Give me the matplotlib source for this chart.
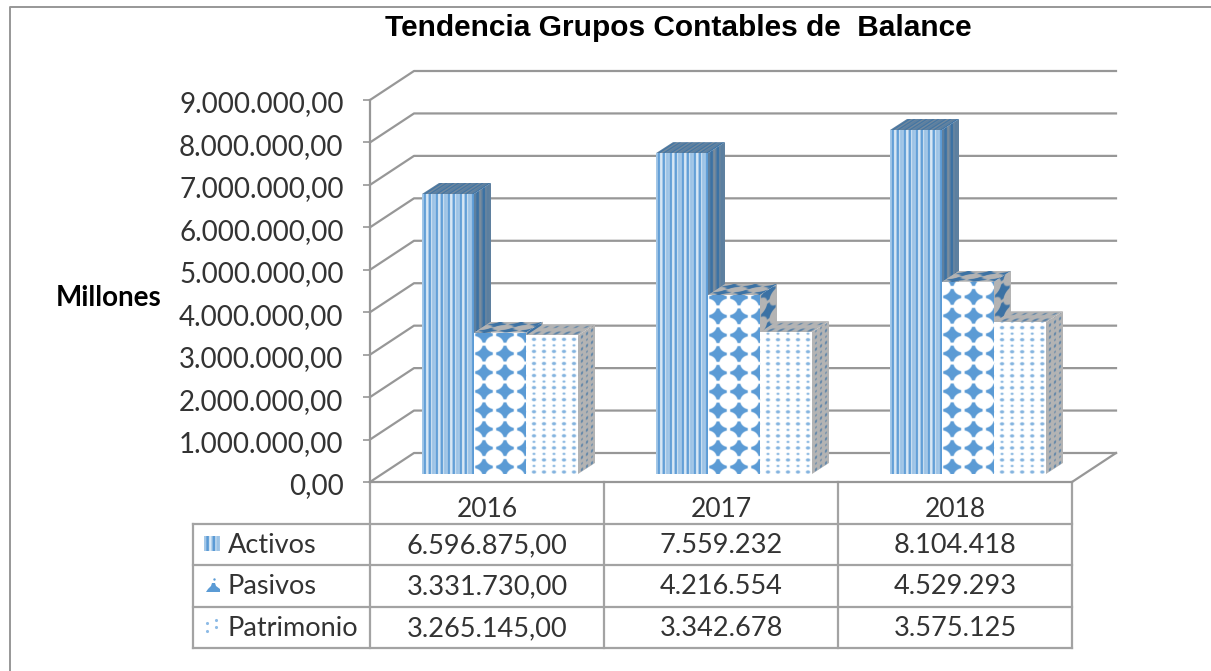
import matplotlib
matplotlib.use('Agg')
import matplotlib.pyplot as plt
import numpy as np
from matplotlib.lines import Line2D
from matplotlib.patches import Polygon
from matplotlib.transforms import Affine2D, ScaledTranslation

years = ['2016', '2017', '2018']
series = ['Activos', 'Pasivos', 'Patrimonio']
activos = [6596875, 7559232, 8104418]
pasivos = [3331730, 4216554, 4529293]
patrimonio = [3265145, 3342678, 3575125]
activos_txt = ['6.596.875,00', '7.559.232', '8.104.418']
pasivos_txt = ['3.331.730,00', '4.216.554', '4.529.293']
patrimonio_txt = ['3.265.145,00', '3.342.678', '3.575.125']
y_ticks = [0, 1000000, 2000000, 3000000, 4000000, 5000000, 6000000, 7000000, 8000000, 9000000]
y_labels = ['0,00', '1.000.000,00', '2.000.000,00', '3.000.000,00', '4.000.000,00',
            '5.000.000,00', '6.000.000,00', '7.000.000,00', '8.000.000,00', '9.000.000,00']

W, H = 1211, 671
GREY = '#979797'
TXT = '#333333'
BLUE = np.array([0x5B, 0x9B, 0xD5]) / 255
WHITE = np.array([1.0, 1.0, 1.0])
SIDE_FG = np.array([0x3C, 0x72, 0xA4]) / 255
SIDE_BG = np.array([0xB4, 0xB4, 0xB4]) / 255
plt.rcParams['font.family'] = ['Lato', 'DejaVu Sans']

fig = plt.figure(figsize=(W / 100, H / 100), dpi=100)
ax = fig.add_axes([370 / W, (H - 482) / H, 702 / W, 382 / H])
ax.patch.set_visible(False)
ax.set_xlim(0, 3)
ax.set_ylim(0, 9000000)

# reference pixels (y going down) -> display
px = Affine2D().scale(1, -1).translate(0, H)


def to_px(x, y):
    return px.inverted().transform(ax.transData.transform((x, y)))


def line(xs, ys, color=GREY, lw=1.6, z=1):
    ax.add_line(Line2D(xs, ys, color=color, lw=lw, transform=px, clip_on=False,
                       zorder=z, solid_capstyle='projecting'))


stripe_mask = np.array([.55, .55, 1, 1, .2, .2, .55, 1, 1, .2, .6, .6])


def mask_for(kind, w, h, sx=1.0, sy=1.0):
    # pattern in reference pixels, 3 samples per pixel
    xs = (np.arange(int(w * 3)) + .5) / 3 * sx
    ys = (np.arange(int(max(h, 1) * 3)) + .5) / 3 * sy
    x, y = np.meshgrid(xs, ys)
    if kind == 0:
        return stripe_mask[(x.astype(int)) % 12]
    if kind == 1:
        # blobs: what is left between white circles, with the tips cut
        bx = (x - 10) % 21
        bx = np.minimum(bx, 21 - bx)
        by = (y - 7) % 18.8
        by = np.minimum(by, 18.8 - by) * 21 / 18.8
        round_part = np.clip((np.hypot(10.5 - bx, 10.5 - by) - 9.2) / .8 + .5, 0, 1)
        tip_part = np.clip((8.8 - np.maximum(bx, by)) / .8 + .5, 0, 1)
        return round_part * tip_part
    dx = (x - 8) % 10
    dx = np.minimum(dx, 10 - dx)
    row = np.floor((y - 2) / 6 + .5)
    dy = y - 2 - row * 6
    r = np.where(row % 2 == 0, 1.5, 1.0)
    return np.clip((r + .5 - np.hypot(dx * .75, dy)) / .8, 0, 1) * .75


def face(kind, origin, u, v, w, h, fg, bg, z, sx=1.0, sy=1.0):
    m = mask_for(kind, w, h, sx, sy)[..., None]
    rgb = bg + (fg - bg) * m
    im = ax.imshow(rgb, extent=(0, 1, 0, 1), origin='lower', aspect='auto',
                   interpolation='bilinear', zorder=z)
    mat = np.array([[u[0], v[0], origin[0]], [u[1], v[1], origin[1]], [0, 0, 1.0]])
    im.set_transform(Affine2D(mat) + px)
    o = np.array(origin, dtype=float)
    corners = [o, o + u, o + np.array(u) + v, o + v]
    im.set_clip_box(fig.bbox)
    im.set_clip_path(Polygon(corners, closed=True, transform=px))


# walls
for t in y_ticks:
    p = to_px(0, t)
    line([p[0], p[0] + 44, 1116], [p[1], p[1] - 29, p[1] - 29])
line([1072, 1116], [482, 453])

# bars
GAP = 52 / 234
BW = 52 / 234
DEPTH = (17, -11)
LIFT = 8
side_sx = [.8, 1.2, 2]
top_sy = [1, 3, 1]
z = 3
for i in range(3):
    for j, vals in enumerate([activos, pasivos, patrimonio]):
        a = to_px(i + GAP + j * BW, 0)
        b = to_px(i + GAP + (j + 1) * BW, vals[i])
        x0, x1 = a[0], b[0]
        y0, y1 = a[1] - LIFT, b[1] - LIFT
        w, h = x1 - x0, y0 - y1
        side_bg = SIDE_BG
        if j == 0:
            side_bg = np.array([0x8A, 0x93, 0x9B]) / 255
        face(j, (x1, y0), DEPTH, (0, -h), DEPTH[0], h, SIDE_FG, side_bg, z, sx=side_sx[j])
        face(j, (x0, y1), (w, 0), DEPTH, w, -DEPTH[1], SIDE_FG, side_bg, z + .1, sy=top_sy[j])
        face(j, (x0, y0), (w, 0), (0, -h), w, h, BLUE, WHITE, z + .2)
        z += 1

# axes
for s in ['top', 'right']:
    ax.spines[s].set_visible(False)
for s in ['left', 'bottom']:
    ax.spines[s].set_color(GREY)
    ax.spines[s].set_linewidth(1.6)
ax.set_yticks(y_ticks)
ax.set_yticklabels(y_labels)
ax.set_xticks([.5, 1.5, 2.5])
ax.set_xticklabels(years)
ax.tick_params(axis='y', length=5, width=1.2, color=GREY, labelsize=20, labelcolor=TXT, pad=14)
ax.tick_params(axis='x', length=0, labelsize=19, labelcolor=TXT, pad=11)
for lab in ax.get_yticklabels():
    lab.set_transform(lab.get_transform() + ScaledTranslation(0, -2 / 100, fig.dpi_scale_trans))

# table under the plot
row_y = [524, 565, 607, 648]
for x in [370, 604, 838, 1072]:
    line([x, x], [482, 648], color='#a3a3a3')
line([193, 193], [524, 648], color='#a3a3a3')
for y in row_y:
    line([193, 1072], [y, y], color='#a3a3a3')
cells = [activos_txt, pasivos_txt, patrimonio_txt]
for r in range(3):
    yc = (row_y[r] + row_y[r + 1]) / 2 + 1
    fig.text(228 / W, 1 - yc / H, series[r], fontsize=19.5, color=TXT, ha='left', va='center')
    for c in range(3):
        p = to_px(c + .5, 0)
        fig.text(p[0] / W, 1 - yc / H, cells[r][c], fontsize=19.5, color=TXT, ha='center', va='center')

# legend keys
face(0, (204, 551), (16, 0), (0, -15), 16, 15, BLUE, WHITE, 3, sx=.8)
ax.add_patch(Polygon([(206, 592), (208, 589), (211, 586), (212, 583), (215, 583), (216, 586),
                      (220, 589), (220, 592)], closed=True, color=BLUE, lw=0, transform=px,
                     clip_on=False, zorder=3))
ax.scatter([213.5], [579], s=3, color=BLUE, lw=0, transform=px, clip_on=False, zorder=3)
ax.scatter([207, 216, 207, 216], [623, 620, 631, 627], s=5, color='#8dbbe6', lw=0,
           transform=px, clip_on=False, zorder=3)

# outer frame, runs off the picture on the right and bottom
line([10, 10, W + 3], [H + 3, 6.5, 6.5], lw=1.4)

fig.text(678.5 / W, 1 - 28 / H, 'Tendencia Grupos Contables de  Balance', fontsize=21.5,
         fontweight='bold', family=['Liberation Sans'], color='black', ha='center', va='center')
fig.text(109 / W, 1 - 298 / H, 'Millones', fontsize=20, fontweight='bold',
         color='black', ha='center', va='center')

ax.set_xlim(0, 3)
ax.set_ylim(0, 9000000)
fig.savefig('out.png', dpi=100)
